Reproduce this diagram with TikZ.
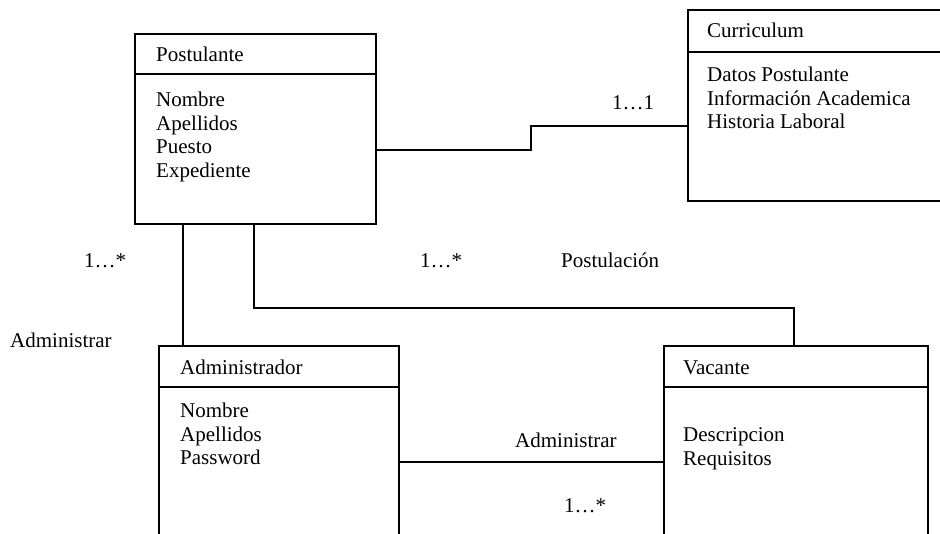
\documentclass[tikz,border=0pt]{standalone}
\usepackage{fontspec}
\setmainfont{Liberation Serif}
\begin{document}
\begin{tikzpicture}[x=1pt,y=-1pt,
  classbox/.style={draw, line width=1.8pt, rectangle, inner sep=0pt, anchor=north west},
  txt/.style={anchor=base west, inner sep=0pt, font=\fontsize{21}{23.4}\selectfont},
  link/.style={line width=1.8pt},
  divider/.style={line width=1.8pt}]
\useasboundingbox (0,0) rectangle (940,534);
\clip (0,0) rectangle (940,534);

% class boxes
\node[classbox, minimum width=241pt, minimum height=190pt] (post) at (134,33) {};
\node[classbox, minimum width=280pt, minimum height=191pt] (cur) at (687,9) {};
\node[classbox, minimum width=240pt, minimum height=200pt] (admin) at (158,345) {};
\node[classbox, minimum width=264pt, minimum height=200pt] (vac) at (663,345) {};

% header dividers
\draw[divider] ([yshift=-41pt]post.north west) -- ([yshift=-41pt]post.north east);
\draw[divider] ([yshift=-43pt]cur.north west) -- ([yshift=-43pt]cur.north east);
\draw[divider] ([yshift=-42pt]admin.north west) -- ([yshift=-42pt]admin.north east);
\draw[divider] ([yshift=-42pt]vac.north west) -- ([yshift=-42pt]vac.north east);

% Postulante
\node[txt] (post-t) at (156,62) {Postulante};
\node[txt] (post-a1) at (156,107) {Nombre};
\node[txt] (post-a2) at (156,130.4) {Apellidos};
\node[txt] (post-a3) at (156,153.8) {Puesto};
\node[txt] (post-a4) at (156,177.2) {Expediente};

% Curriculum
\node[txt] (cur-t) at (707,38) {Curriculum};
\node[txt] (cur-a1) at (707,82) {Datos Postulante};
\node[txt] (cur-a2) at (707,105.4) {Información Academica};
\node[txt] (cur-a3) at (707,128.8) {Historia Laboral};

% Administrador
\node[txt] (admin-t) at (180,375) {Administrador};
\node[txt] (admin-a1) at (180,418) {Nombre};
\node[txt] (admin-a2) at (180,441.4) {Apellidos};
\node[txt] (admin-a3) at (180,464.8) {Password};

% Vacante
\node[txt] (vac-t) at (683,375) {Vacante};
\node[txt] (vac-a1) at (683,442) {Descripcion};
\node[txt] (vac-a2) at (683,465.4) {Requisitos};

% associations
\coordinate (cbend) at (531,150);
\coordinate (pvbend) at (794,308);
\draw[link] ([yshift=-117pt]post.north east) -- (cbend) |- ([yshift=-117pt]cur.north west);
\draw[link] ([xshift=49pt]post.south west) -- ([xshift=25pt]admin.north west);
\draw[link] ([xshift=120pt]post.south west) |- (pvbend) -- ([xshift=131pt]vac.north west);
\draw[link] ([yshift=-117pt]admin.north east) -- ([yshift=-117pt]vac.north west);

% association labels
\node[txt] (m-cur) at (612,110) {1…1};
\node[txt] (m-adm) at (84,268) {1…*};
\node[txt] (l-adm) at (10,348) {Administrar};
\node[txt] (m-vac) at (420,268) {1…*};
\node[txt] (l-post) at (561,268) {Postulación};
\node[txt] (l-adm2) at (515,447) {Administrar};
\node[txt] (m-adm2) at (564,512) {1…*};
\end{tikzpicture}
\end{document}
